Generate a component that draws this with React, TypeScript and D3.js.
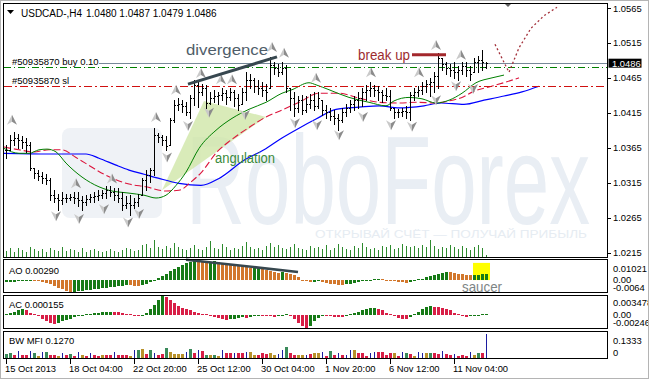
import React from 'react';
import * as d3 from 'd3';

const W = 649;
const H = 379;
const FONT = "'Liberation Sans', Arial, sans-serif";

// ---------------- data ----------------
const symbolLabel = 'USDCAD-,H4';
const lastOHLC = [1.048, 1.0487, 1.0479, 1.0486];
const orderLabels = ['#50935870 buy 0.10', '#50935870 sl'];
const buyPrice = 1.048;
const slPrice = 1.0453;
const bidPrice = 1.0486;

const highs = [
  1.0369, 1.0383, 1.0387, 1.0384, 1.0382, 1.0379, 1.0373, 1.0336, 1.0333, 1.033,
  1.0327, 1.0321, 1.0304, 1.0299, 1.0301, 1.0299, 1.0299, 1.0301, 1.0301, 1.0296,
  1.0297, 1.0299, 1.0301, 1.0304, 1.0304, 1.031, 1.031, 1.0307, 1.0307, 1.0301,
  1.0296, 1.0297, 1.0293, 1.0299, 1.0321, 1.0333, 1.0336, 1.0393, 1.0386, 1.0383,
  1.0382, 1.0407, 1.0433, 1.0436, 1.0433, 1.043, 1.044, 1.0462, 1.0459, 1.0456,
  1.0455, 1.0445, 1.0448, 1.0445, 1.045, 1.0448, 1.045, 1.0448, 1.0442, 1.045,
  1.0473, 1.047, 1.0465, 1.0462, 1.0459, 1.0456, 1.0495, 1.0488, 1.0485, 1.0488,
  1.0483, 1.045, 1.0445, 1.0439, 1.044, 1.0439, 1.0442, 1.0445, 1.0445, 1.0433,
  1.0426, 1.0422, 1.0419, 1.0413, 1.0422, 1.0427, 1.0433, 1.0439, 1.0445, 1.045,
  1.0455, 1.0459, 1.0455, 1.0453, 1.0448, 1.045, 1.0448, 1.0422, 1.042, 1.0422,
  1.0425, 1.0445, 1.045, 1.0453, 1.0459, 1.0462, 1.0465, 1.0473, 1.0501, 1.0493,
  1.0488, 1.0485, 1.0488, 1.0482, 1.0488, 1.0488, 1.0482, 1.0493, 1.0496, 1.0505,
  1.0487,
];
const lows = [
  1.035, 1.0362, 1.0369, 1.0364, 1.0364, 1.0359, 1.0333, 1.0321, 1.0319, 1.0314,
  1.0313, 1.029, 1.0287, 1.0276, 1.0284, 1.0287, 1.029, 1.0286, 1.0281, 1.0276,
  1.0283, 1.0287, 1.0287, 1.029, 1.0293, 1.0293, 1.0296, 1.029, 1.0287, 1.0276,
  1.0278, 1.0268, 1.0278, 1.0281, 1.0297, 1.0304, 1.0316, 1.0326, 1.0373, 1.0369,
  1.0362, 1.0369, 1.0402, 1.0419, 1.0416, 1.0412, 1.0407, 1.0426, 1.0423, 1.044,
  1.0422, 1.0427, 1.043, 1.0427, 1.0433, 1.0427, 1.0433, 1.0425, 1.0419, 1.0427,
  1.0433, 1.045, 1.0445, 1.0442, 1.0439, 1.0433, 1.045, 1.047, 1.0468, 1.047,
  1.0445, 1.0419, 1.041, 1.0416, 1.0413, 1.0416, 1.0422, 1.0419, 1.0422, 1.0412,
  1.0407, 1.0405, 1.0399, 1.039, 1.0402, 1.041, 1.0416, 1.0419, 1.0422, 1.0425,
  1.0433, 1.0439, 1.0439, 1.0433, 1.043, 1.0433, 1.0419, 1.0407, 1.0409, 1.041,
  1.0407, 1.0405, 1.0433, 1.0439, 1.0442, 1.0445, 1.0439, 1.0445, 1.045, 1.0476,
  1.047, 1.0468, 1.0465, 1.0462, 1.047, 1.0468, 1.0462, 1.0473, 1.0473, 1.0476,
  1.0479,
];
const closes = [
  1.0362, 1.0376, 1.0379, 1.0376, 1.0373, 1.0369, 1.0336, 1.0329, 1.0324, 1.0321,
  1.0319, 1.0297, 1.0293, 1.029, 1.0293, 1.0293, 1.0294, 1.0293, 1.029, 1.0287,
  1.0291, 1.0294, 1.0296, 1.0297, 1.03, 1.0304, 1.0301, 1.0297, 1.0293, 1.0283,
  1.0286, 1.0283, 1.0287, 1.0293, 1.0319, 1.0326, 1.0333, 1.0383, 1.038, 1.0376,
  1.0367, 1.0405, 1.0426, 1.0427, 1.0425, 1.0416, 1.0436, 1.0455, 1.0445, 1.045,
  1.0429, 1.0436, 1.0439, 1.044, 1.0443, 1.0437, 1.0445, 1.0436, 1.0426, 1.0445,
  1.0462, 1.0462, 1.0453, 1.045, 1.0448, 1.0445, 1.0483, 1.0479, 1.0473, 1.0479,
  1.045, 1.0436, 1.0422, 1.0433, 1.0419, 1.0427, 1.0433, 1.0425, 1.0436, 1.0419,
  1.0416, 1.041, 1.0407, 1.0405, 1.0416, 1.0422, 1.0427, 1.0433, 1.0436, 1.0445,
  1.0448, 1.045, 1.0448, 1.0445, 1.044, 1.0439, 1.0422, 1.0416, 1.0416, 1.0417,
  1.0416, 1.044, 1.0445, 1.0448, 1.0453, 1.0456, 1.0459, 1.0468, 1.0493, 1.0485,
  1.0479, 1.0476, 1.0473, 1.0476, 1.0482, 1.0476, 1.047, 1.0488, 1.049, 1.0488,
  1.0486,
];
const volumes = [
  1800, 2400, 1500, 2600, 2000, 1300, 2900, 2200, 1600, 2100,
  1400, 2500, 2000, 1700, 2800, 1600, 2200, 1900, 1400, 2400,
  1500, 1900, 2100, 1600, 1300, 1800, 2300, 1600, 1400, 1900,
  2600, 2100, 1600, 1900, 3200, 3600, 2600, 4600, 2800, 2200,
  3100, 2500, 3900, 2700, 2100, 1900, 2500, 3400, 2200, 1900,
  2800, 4500, 2600, 2200, 3700, 2800, 1900, 2500, 2200, 3000,
  4200, 2700, 2200, 2500, 1900, 3000, 3900, 2700, 3300, 2500,
  2200, 2700, 3600, 2500, 2200, 1900, 3000, 2500, 2700, 2200,
  3300, 1900, 2500, 3600, 2700, 2200, 1900, 3000, 2500, 3800,
  2700, 2200, 2500, 1900, 3000, 2700, 3300, 2200, 2500, 3500,
  3000, 2700, 3000, 2500, 3300, 2700, 4800, 3000, 2200, 2700,
  2500, 3300, 2700, 2200, 3000, 2500, 1900, 2700, 3300, 2500,
  600,
];

// Awesome Oscillator, in units of 0.0001
const aoValues = [
  -14, -12, -10, -8, -3, -2, -1, -3, -5, -10,
  -17, -25, -33, -42, -50, -58, -64, -62, -60, -57,
  -55, -52, -50, -47, -45, -42, -40, -37, -34, -31,
  -28, -29, -31, -33, -28, -20, -12, -3, 8, 20,
  32, 44, 56, 67, 77, 86, 94, 102, 99, 96,
  93, 94, 95, 91, 88, 85, 81, 78, 74, 70,
  64, 58, 60, 62, 57, 52, 47, 42, 37, 39,
  35, 30, 24, 12, -2, -8, -12, -10, -8, -12,
  -18, -22, -25, -27, -28, -25, -21, -17, -13, -9,
  -5, -2, 1, 3, 2, -2, -6, -9, -12, -14,
  -15, -12, -6, 0, 6, 12, 18, 25, 31, 36,
  40, 38, 35, 32, 29, 26, 24, 25, 26, 27,
  29,
];
// Accelerator Oscillator, in units of 0.0001
const acValues = [
  1, 3, 6, 9, 11, 8, 4, 0, -3, -7,
  -11, -15, -17, -15, -12, -9, -7, -5, -3, -1,
  1, 2, 3, 4, 5, 5.5, 6, 5.5, 5, 4,
  2, 0, -2, -3, -2, 4, 10, 18, 27, 34.8,
  33, 28, 22, 17, 13, 10, 8, 6, 4, 2,
  1, -2, -4, -6, -8, -9, -8, -7, -6, -5,
  -6, -4, -2, -1, -1.5, -2, -3, -3.5, -2, -1,
  0, -3, -8, -15, -20, -24.6, -20, -12, -6, -1,
  -2, -3, -3.5, -4, -5, -3, 0, 3, 6, 9,
  11, 12, 12.5, 11, 8, 4, 1, -3, -6, -7,
  -7.5, -4, 0, 5, 10, 14, 16, 15, 14, 13,
  11, 8, 4, 0, -3, -5, -3, -1.5, -0.5, 0.5,
  1.55,
];
const mfiValues = [
  0.021, 0.027, 0.016, 0.037, 0.016, 0.016, 0.037, 0.027, 0.011, 0.032,
  0.032, 0.016, 0.016, 0.011, 0.027, 0.016, 0.021, 0.011, 0.032, 0.016,
  0.011, 0.027, 0.016, 0.011, 0.016, 0.016, 0.016, 0.032, 0.016, 0.016,
  0.016, 0.008, 0.043, 0.043, 0.048, 0.021, 0.043, 0.027, 0.016, 0.021,
  0.053, 0.032, 0.021, 0.021, 0.021, 0.032, 0.048, 0.027, 0.043, 0.037,
  0.016, 0.016, 0.016, 0.011, 0.043, 0.027, 0.027, 0.027, 0.027, 0.027,
  0.032, 0.032, 0.016, 0.016, 0.027, 0.021, 0.027, 0.016, 0.021, 0.043,
  0.059, 0.027, 0.016, 0.016, 0.016, 0.016, 0.021, 0.027, 0.027, 0.032,
  0.011, 0.037, 0.016, 0.027, 0.016, 0.016, 0.043, 0.043, 0.027, 0.027,
  0.011, 0.027, 0.032, 0.032, 0.032, 0.016, 0.027, 0.027, 0.011, 0.032,
  0.027, 0.021, 0.011, 0.032, 0.027, 0.027, 0.027, 0.027, 0.021, 0.037,
  0.021, 0.016, 0.021, 0.011, 0.016, 0.011, 0.032, 0.016, 0.027, 0.027,
  0.127,
];
const mfiKinds = (
  'ggrbrrbgyb' + 'grrybrgrby' + 'rbrryrrbrr' + 'rybgyrgbrr' + 'gyyyybgrbr' +
  'gygybrrbrr' + 'byyrrryybb' + 'grryybryyb' + 'rgrbrbbyrr' + 'rbbrrrryrb' +
  'grybbygrrb' + 'rrbrrrbygr' + 'b'
).split('');

// Alligator lines: bar position / price
const jawBars = [-0.5, 10.75, 20, 23.25, 27.5, 30.75, 34.5, 38.25, 43.25, 48.75, 53.25, 59.5, 64.5, 69, 73.25, 77.5, 82.5, 88.25, 93.25, 98.25, 104.5, 108.75, 114.5, 119.5, 124.5, 129, 133.25];
const jawPrices = [1.0357, 1.0356, 1.0356, 1.035, 1.034, 1.0333, 1.0327, 1.0321, 1.0314, 1.0311, 1.0321, 1.0347, 1.0362, 1.0379, 1.0393, 1.0406, 1.042, 1.0423, 1.0425, 1.0422, 1.0425, 1.0429, 1.0427, 1.0433, 1.0439, 1.0445, 1.0453];
const teethBars = [-0.5, 3.25, 7, 10.75, 14, 17.5, 21.5, 24.5, 27.5, 30.75, 35, 40, 43.25, 46.25, 48.75, 52.75, 56.25, 60.75, 65, 69, 73.25, 78.25, 83.25, 88.25, 93.25, 98.25, 102.75, 107, 110.75, 114, 117, 120.75, 125, 128.25];
const teethPrices = [1.0366, 1.0362, 1.0359, 1.0362, 1.0362, 1.0351, 1.0337, 1.0327, 1.0319, 1.0313, 1.0309, 1.0303, 1.0304, 1.0316, 1.0329, 1.0359, 1.0376, 1.0394, 1.0409, 1.0419, 1.043, 1.0443, 1.0443, 1.0436, 1.043, 1.0429, 1.043, 1.0429, 1.0432, 1.0437, 1.0446, 1.0452, 1.0459, 1.0465];
const lipsBars = [-0.5, 3.25, 5.75, 8.25, 10.25, 12.5, 15, 19, 23.25, 25.75, 30.75, 34.5, 37.5, 40, 42.5, 45, 48.25, 52.5, 56.5, 60.75, 65, 69, 71.5, 75.75, 77.5, 80.75, 85.75, 90.75, 95, 97, 100.75, 104, 107.5, 110.75, 114, 117.5, 121.5, 124.5];
const lipsPrices = [1.0364, 1.0357, 1.0357, 1.0362, 1.0363, 1.0359, 1.0343, 1.0323, 1.0309, 1.0304, 1.03, 1.0297, 1.0293, 1.0297, 1.0311, 1.033, 1.0364, 1.039, 1.0407, 1.042, 1.043, 1.0443, 1.0448, 1.0458, 1.0455, 1.0448, 1.0437, 1.043, 1.0425, 1.0432, 1.0437, 1.0435, 1.0429, 1.0433, 1.0443, 1.0458, 1.0465, 1.0469];

// Fractals
const upFractalBars = [1.5, 17.5, 26.5, 37.5, 42.5, 48.75, 53.75, 56.5, 66.5, 69.5, 77.5, 91.25, 103.25, 107.5, 113.75];
const upFractalPrices = [1.0405, 1.0314, 1.0321, 1.0409, 1.0448, 1.0472, 1.0463, 1.0463, 1.0509, 1.0501, 1.0465, 1.0473, 1.0473, 1.0512, 1.0498];
const dnFractalBars = [12.5, 18.25, 24.5, 30.5, 33.25, 40.25, 45.5, 50.75, 59.75, 72.25, 77.75, 83.25, 89.25, 96.25, 101.5, 107.5, 112.5, 116.75];
const dnFractalPrices = [1.0267, 1.0263, 1.0277, 1.0258, 1.027, 1.0351, 1.0396, 1.0415, 1.0412, 1.04, 1.0397, 1.0383, 1.0409, 1.0397, 1.0395, 1.0433, 1.0453, 1.0449];

// Annotations
const divergenceBars = [45.5, 67.75];
const divergencePrices = [1.0456, 1.0495];
const aoDivergenceBars = [45, 73];
const aoDivergenceValues = [0.0104, 0.004];
const breakUpBars = [101.5, 110];
const breakUpPrice = 1.0498;
const angulationBars = [39, 49.5, 65];
const angulationPrices = [1.0304, 1.0432, 1.0409];
const projectionBars = [122.25, 125.75, 128.25, 131.25, 134.5, 137.75];
const projectionPrices = [1.0513, 1.0473, 1.0508, 1.0536, 1.0554, 1.0566];

const priceTicks = [1.0565, 1.0515, 1.0465, 1.0415, 1.0365, 1.0315, 1.0265, 1.0215];
const aoTickLabels = ['0.01021', '0.00', '-0.0064'];
const acTickLabels = ['0.003478', '0.00', '-0.00246'];
const mfiTickLabels = ['0.1333', '0'];
const timeTickBars = [0, 16, 32, 48, 64, 80, 96, 112];
const timeTickLabels = ['15 Oct 2013', '18 Oct 04:00', '22 Oct 20:00', '25 Oct 12:00', '30 Oct 04:00', '1 Nov 20:00', '6 Nov 12:00', '11 Nov 04:00'];

// ---------------- component ----------------
const MFI_COLORS: Record<string, string> = { g: '#3a8a5a', r: '#d81e46', y: '#b8912a', b: '#1c1ca0' };

function arrowPath(cx: number, cy: number, up: boolean, half: 'l' | 'r' | 'all') {
  const s = up ? 1 : -1;
  const tip = [cx, cy - 5 * s];
  const notch = [cx, cy + 2 * s];
  const l = [cx - 5, cy + 5 * s];
  const r = [cx + 5, cy + 5 * s];
  const pts = half === 'l' ? [tip, notch, l] : half === 'r' ? [tip, r, notch] : [tip, r, notch, l];
  return 'M' + pts.map((p) => p.join(',')).join('L') + 'Z';
}

export default function App() {
  const n = closes.length;
  const x = d3.scaleLinear().domain([0, 120]).range([6, 486]);
  const yP = d3.scaleLinear().domain([1.0215, 1.0565]).range([252.5, 8]);
  const yAO = d3.scaleLinear().domain([-0.0064, 0.01021]).range([292, 260]);
  const yAC = d3.scaleLinear().domain([-0.00246, 0.003478]).range([328, 296]);
  const yMFI = d3.scaleLinear().domain([0, 0.1333]).range([358, 333]);
  const yVol = d3.scaleLinear().domain([0, 5000]).range([257, 239]);

  const px = (i: number) => Math.round(x(i));
  const opens = closes.map((c, i) => {
    const o = i === n - 1 ? lastOHLC[0] : i === 0 ? c : closes[i - 1];
    return Math.min(highs[i], Math.max(lows[i], o));
  });

  const line = d3
    .line<[number, number]>()
    .x((d) => x(d[0]))
    .y((d) => yP(d[1]))
    .curve(d3.curveMonotoneX);
  const straight = d3
    .line<[number, number]>()
    .x((d) => x(d[0]))
    .y((d) => yP(d[1]));

  const jaw = line(jawBars.map((b, i) => [b, jawPrices[i]] as [number, number])) || '';
  const teeth = line(teethBars.map((b, i) => [b, teethPrices[i]] as [number, number])) || '';
  const lips = line(lipsBars.map((b, i) => [b, lipsPrices[i]] as [number, number])) || '';

  const histRect = (i: number, v: number, y: d3.ScaleLinear<number, number>, w = 3) => {
    const y0 = Math.round(y(0));
    const y1 = Math.round(y(v));
    let top = Math.min(y0, y1);
    let h = Math.abs(y1 - y0);
    if (h < 1) {
      h = 1;
      top = v >= 0 ? y0 - 1 : y0;
    }
    return { x: w === 3 ? px(i) - 1 : px(i), y: top, width: w, height: h };
  };

  const axisText = { fontFamily: FONT, fontSize: 9.4, fill: '#000' };

  return (
    <svg
      width={W}
      height={H}
      viewBox={`0 0 ${W} ${H}`}
      style={{ position: 'absolute', left: 0, top: 0, background: '#fff' }}
    >
      <rect x={0} y={0} width={W} height={H} fill="#fff" />

      {/* ---------- main price panel ---------- */}
      <g>
        {/* watermark */}
        <rect x={62} y={128} width={100} height={90} rx={8} fill="#eff2f6" />
        <text
          x={186}
          y={224}
          fontFamily={FONT}
          fontSize={126}
          fill="#e9eef4"
          textLength={404}
          lengthAdjust="spacingAndGlyphs"
        >
          RoboForex
        </text>
        <text
          x={315}
          y={238}
          fontFamily={FONT}
          fontSize={10}
          fill="#e6ecf2"
          textLength={272}
          lengthAdjust="spacingAndGlyphs"
        >
          ОТКРЫВАЙ СЧЁТ — ПОЛУЧАЙ ПРИБЫЛЬ
        </text>

        {/* angulation wedge */}
        <path
          d={
            'M' +
            angulationBars.map((b, i) => `${x(b)},${yP(angulationPrices[i])}`).join('L') +
            'Z'
          }
          fill="#cfe6a8"
          opacity={0.8}
        />

        {/* volumes */}
        {volumes.slice(0, n).map((v, i) => (
          <rect key={'v' + i} x={px(i)} y={Math.round(yVol(v))} width={1} height={257 - Math.round(yVol(v))} fill="#2e8b2e" />
        ))}

        {/* alligator */}
        <path d={jaw} fill="none" stroke="#0000ff" strokeWidth={1.2} />
        <path d={teeth} fill="none" stroke="#dc143c" strokeWidth={1.1} strokeDasharray="7,3" />
        <path d={lips} fill="none" stroke="#008000" strokeWidth={1} />

        {/* order lines */}
        <line x1={99} x2={607} y1={Math.round(yP(bidPrice)) + 0.5} y2={Math.round(yP(bidPrice)) + 0.5} stroke="#778899" strokeWidth={1} />
        <line x1={4} x2={607} y1={Math.round(yP(buyPrice)) + 0.5} y2={Math.round(yP(buyPrice)) + 0.5} stroke="#008000" strokeWidth={1} strokeDasharray="7,3,1,3" />
        <line x1={4} x2={607} y1={Math.round(yP(slPrice)) + 0.5} y2={Math.round(yP(slPrice)) + 0.5} stroke="#d01010" strokeWidth={1} strokeDasharray="8,3,2,3" />
        <text x={12} y={Math.round(yP(buyPrice)) - 2} fontFamily={FONT} fontSize={9.5} fill="#000">
          {orderLabels[0]}
        </text>
        <text x={12} y={Math.round(yP(slPrice)) - 2} fontFamily={FONT} fontSize={9.5} fill="#000">
          {orderLabels[1]}
        </text>

        {/* price bars */}
        {closes.map((c, i) => {
          const xi = px(i);
          const yh = Math.round(yP(highs[i]));
          const yl = Math.round(yP(lows[i]));
          const yo = Math.round(yP(opens[i]));
          const yc = Math.round(yP(c));
          return (
            <g key={'b' + i} fill="#000">
              <rect x={xi} y={yh} width={1} height={Math.max(1, yl - yh + 1)} />
              <rect x={xi - 1} y={yo} width={1} height={1} />
              <rect x={xi + 1} y={yc} width={1} height={1} />
            </g>
          );
        })}

        {/* fractals */}
        {upFractalBars.map((b, i) => {
          const cx = x(b);
          const cy = yP(upFractalPrices[i]);
          return (
            <g key={'fu' + i}>
              <path d={arrowPath(cx, cy, true, 'l')} fill="#c9c9c9" />
              <path d={arrowPath(cx, cy, true, 'r')} fill="#8c8c8c" />
            </g>
          );
        })}
        {dnFractalBars.map((b, i) => {
          const cx = x(b);
          const cy = yP(dnFractalPrices[i]);
          return (
            <g key={'fd' + i}>
              <path d={arrowPath(cx, cy, false, 'l')} fill="#c9c9c9" />
              <path d={arrowPath(cx, cy, false, 'r')} fill="#8c8c8c" />
            </g>
          );
        })}

        {/* annotations */}
        <path
          d={straight(divergenceBars.map((b, i) => [b, divergencePrices[i]] as [number, number])) || ''}
          stroke="#37474f"
          strokeWidth={3}
          fill="none"
        />
        <text x={186} y={55} fontFamily={FONT} fontSize={15} fill="#4f5d69" textLength={82} lengthAdjust="spacingAndGlyphs">
          divergence
        </text>
        <text x={215} y={163} fontFamily={FONT} fontSize={14} fill="#3a8a3a" textLength={60} lengthAdjust="spacingAndGlyphs">
          angulation
        </text>
        <line
          x1={x(breakUpBars[0])}
          x2={x(breakUpBars[1])}
          y1={yP(breakUpPrice)}
          y2={yP(breakUpPrice)}
          stroke="#a3282c"
          strokeWidth={3}
        />
        <text x={358} y={60} fontFamily={FONT} fontSize={14} fill="#9c2b2e" textLength={52} lengthAdjust="spacingAndGlyphs">
          break up
        </text>
        <path
          d={straight(projectionBars.map((b, i) => [b, projectionPrices[i]] as [number, number])) || ''}
          stroke="#a3303a"
          strokeWidth={1.3}
          strokeDasharray="2,2.5"
          fill="none"
        />

        {/* header */}
        <path d="M7,10L14,10L10.5,14Z" fill="#000" />
        <text x={21} y={16.5} fontFamily={FONT} fontSize={10} fill="#000">
          {symbolLabel}
        </text>
        <text x={86} y={16.5} fontFamily={FONT} fontSize={10} fill="#000">
          {lastOHLC.map((v) => v.toFixed(4)).join(' ')}
        </text>
        <path d="M504,3L512,3L508,7Z" fill="#606060" />

        <rect x={3.5} y={3.5} width={604} height={254} fill="none" stroke="#000" />
      </g>

      {/* price axis */}
      {priceTicks.map((p) => (
        <g key={'pt' + p}>
          <line x1={608} x2={611} y1={Math.round(yP(p)) + 0.5} y2={Math.round(yP(p)) + 0.5} stroke="#000" />
          <text x={613} y={yP(p) + 3.5} {...axisText}>
            {p.toFixed(4)}
          </text>
        </g>
      ))}
      <rect x={608.5} y={yP(bidPrice) - 4.5} width={33} height={9} fill="#000" />
      <text x={612} y={yP(bidPrice) + 3.5} {...axisText} fill="#fff">
        {bidPrice.toFixed(4)}
      </text>

      {/* ---------- AO panel ---------- */}
      <rect
        x={x(116.75)}
        y={yAO(0.0087)}
        width={x(121) - x(116.75)}
        height={yAO(-0.0002) - yAO(0.0087)}
        fill="#ffff00"
      />
      {aoValues.map((v, i) => {
        const up = i === 0 || v > aoValues[i - 1];
        const r = histRect(i, v / 10000, yAO);
        return <rect key={'ao' + i} {...r} fill={up ? '#167a16' : '#d2772c'} />;
      })}
      <path
        d={
          d3
            .line<[number, number]>()
            .x((d) => x(d[0]))
            .y((d) => yAO(d[1]))(aoDivergenceBars.map((b, i) => [b, aoDivergenceValues[i]] as [number, number])) || ''
        }
        stroke="#37474f"
        strokeWidth={2.5}
        fill="none"
      />
      <text x={462} y={292} fontFamily={FONT} fontSize={15} fill="#7d8585" textLength={40} lengthAdjust="spacingAndGlyphs">
        saucer
      </text>
      <text x={9} y={274} {...axisText}>
        AO 0.00290
      </text>
      <rect x={3.5} y={259.5} width={604} height={33} fill="none" stroke="#000" />
      {aoTickLabels.map((t, i) => (
        <text key={'aot' + i} x={613} y={[271.5, 282.5, 291][i]} {...axisText}>
          {t}
        </text>
      ))}

      {/* ---------- AC panel ---------- */}
      {acValues.map((v, i) => {
        const up = i === 0 || v > acValues[i - 1];
        const r = histRect(i, v / 10000, yAC);
        return <rect key={'ac' + i} {...r} fill={up ? '#167a16' : '#d81e46'} />;
      })}
      <text x={9} y={308} {...axisText}>
        AC 0.000155
      </text>
      <rect x={3.5} y={295.5} width={604} height={33} fill="none" stroke="#000" />
      {acTickLabels.map((t, i) => (
        <text key={'act' + i} x={613} y={[306, 317.5, 326][i]} {...axisText}>
          {t}
        </text>
      ))}

      {/* ---------- BW MFI panel ---------- */}
      {mfiValues.map((v, i) => {
        const k = mfiKinds[i] || 'g';
        const r = histRect(i, v, yMFI, k === 'b' ? 1 : 3);
        return <rect key={'mfi' + i} {...r} fill={MFI_COLORS[k]} />;
      })}
      <text x={9} y={344} {...axisText}>
        BW MFI 0.1270
      </text>
      <rect x={3.5} y={331.5} width={604} height={27} fill="none" stroke="#000" />
      {mfiTickLabels.map((t, i) => (
        <text key={'mt' + i} x={613} y={[344, 355.5][i]} {...axisText}>
          {t}
        </text>
      ))}

      {/* ---------- time axis ---------- */}
      {timeTickBars.map((b, i) => (
        <g key={'tt' + i}>
          <line x1={px(b) + 0.5} x2={px(b) + 0.5} y1={359} y2={364} stroke="#000" />
          <text x={px(b) - 1} y={372} {...axisText}>
            {timeTickLabels[i]}
          </text>
        </g>
      ))}

      <rect x={0.5} y={0.5} width={W - 1} height={H - 1} fill="none" stroke="#b4b4b4" />
    </svg>
  );
}
